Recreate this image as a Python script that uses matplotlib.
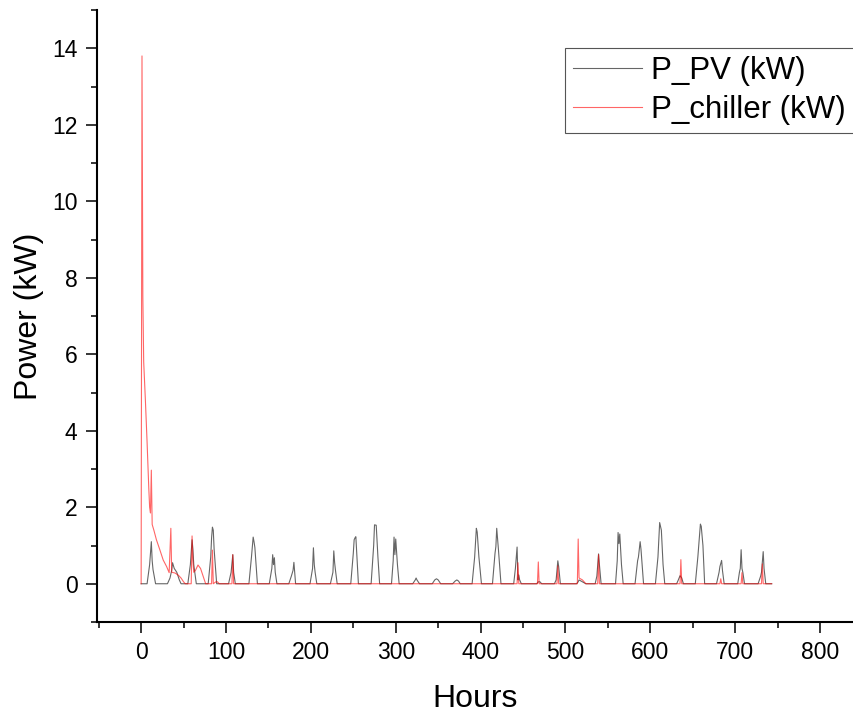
import matplotlib
matplotlib.use("Agg")
import matplotlib.pyplot as plt
from matplotlib.ticker import MultipleLocator

plt.rcParams["font.family"] = ["Liberation Sans", "DejaVu Sans"]

# PV output, key points (hour, kW)
pv_hours = [
    0, 7, 10, 12, 13, 14, 17,
    31, 34, 36, 37, 39, 42, 45, 47,
    55, 58, 60, 61, 62, 65,
    79, 82, 83, 84, 85, 86, 89,
    103, 106, 108, 109, 111,
    127, 130, 132, 133, 134, 137,
    151, 154, 155, 156, 157, 158, 160,
    174, 177, 179, 180, 182,
    199, 202, 203, 204, 205, 207,
    223, 226, 227, 228, 229, 231,
    247, 250, 251, 252, 253, 256,
    271, 274, 275, 277, 279, 281,
    295, 297, 298, 299, 300, 302, 304,
    320, 323, 324, 325, 328,
    343, 346, 348, 350, 353,
    367, 370, 372, 374, 376,
    390, 393, 395, 396, 398, 401,
    414, 417, 418, 419, 421, 424,
    439, 441, 443, 444, 445, 446, 448,
    466, 468, 470, 472,
    487, 489, 491, 492, 494,
    513, 515, 516, 520, 524,
    535, 537, 539, 540, 542,
    559, 561, 562, 563, 564, 566, 568,
    582, 585, 586, 588, 589, 592,
    606, 609, 611, 613, 615, 617,
    631, 633, 635, 637, 639,
    653, 656, 659, 660, 662, 664,
    678, 681, 682, 684, 685, 687,
    703, 705, 706, 707, 708, 709, 711,
    727, 730, 731, 733, 734, 736,
    743,
]
pv_values = [
    0, 0, 0.5, 1.1, 0.6, 0.37, 0,
    0, 0.15, 0.35, 0.55, 0.4, 0.3, 0.1, 0,
    0, 0.5, 1.15, 0.9, 0.5, 0,
    0, 0.7, 1.2, 1.48, 1.4, 0.9, 0,
    0, 0.3, 0.76, 0.3, 0,
    0, 0.7, 1.22, 1.1, 0.95, 0,
    0, 0.4, 0.76, 0.5, 0.68, 0.3, 0,
    0, 0.2, 0.35, 0.56, 0,
    0, 0.4, 0.94, 0.5, 0.3, 0,
    0, 0.3, 0.86, 0.55, 0.35, 0,
    0, 0.8, 1.15, 1.2, 1.23, 0,
    0, 1.0, 1.54, 1.53, 0.7, 0,
    0, 0.6, 1.22, 0.76, 1.17, 0.5, 0,
    0, 0.1, 0.15, 0.1, 0,
    0, 0.1, 0.13, 0.1, 0,
    0, 0.07, 0.1, 0.07, 0,
    0, 0.7, 1.45, 1.35, 0.7, 0,
    0, 0.8, 0.97, 1.45, 0.9, 0,
    0, 0.4, 0.96, 0.1, 0.23, 0.1, 0,
    0, 0.05, 0.05, 0,
    0, 0.1, 0.6, 0.45, 0,
    0, 0.05, 0.1, 0.05, 0,
    0, 0.2, 0.78, 0.5, 0,
    0, 0.6, 1.34, 1.05, 1.3, 0.5, 0,
    0, 0.6, 0.7, 1.1, 0.9, 0,
    0, 0.7, 1.6, 1.4, 0.5, 0,
    0, 0.1, 0.21, 0.15, 0,
    0, 0.7, 1.56, 1.5, 1.0, 0,
    0, 0.3, 0.45, 0.61, 0.35, 0,
    0, 0.3, 0.4, 0.89, 0.4, 0.3, 0,
    0, 0.2, 0.3, 0.84, 0.4, 0,
    0,
]

# chiller power, key points (hour, kW)
chiller_hours = [
    0, 1, 2, 3, 5, 7, 9, 10, 11, 12, 13, 15, 18, 22, 26, 30, 33, 35, 36,
    40, 44, 47, 50, 52, 59, 60, 61, 62, 64, 67, 70, 73, 76,
    83, 84, 85, 88, 90, 92, 107, 108, 109,
    443, 444, 445, 467, 468, 469, 490, 491, 492,
    514, 515, 516, 520, 524, 538, 539, 540,
    635, 636, 637, 682, 683, 684, 707, 708, 709, 731, 732, 733, 743,
]
chiller_values = [
    0, 13.8, 7.5, 5.8, 4.8, 3.7, 2.5, 2.0, 1.85, 2.97, 1.55, 1.4, 1.15, 0.89, 0.62, 0.45, 0.29, 1.45, 0.3,
    0.28, 0.22, 0.15, 0.05, 0, 0, 1.25, 0.6, 0.3, 0.35, 0.49, 0.4, 0.2, 0,
    0, 0.88, 0, 0.05, 0.05, 0, 0, 0.76, 0,
    0, 0.55, 0, 0, 0.57, 0, 0, 0.47, 0,
    0, 1.17, 0.15, 0.1, 0, 0, 0.76, 0,
    0, 0.63, 0, 0, 0.13, 0, 0, 0.29, 0, 0, 0.52, 0, 0,
]

fig = plt.figure(figsize=(8.54, 7.17), dpi=100)
ax = fig.add_axes([0.1136, 0.1325, 0.8864, 0.8535])

ax.plot(pv_hours, pv_values, color="#000000", alpha=0.6, lw=0.8, label="P_PV (kW)")
ax.plot(chiller_hours, chiller_values, color="#ff0000", alpha=0.6, lw=0.8, label="P_chiller (kW)")

ax.set_xlim(-52, 840)
ax.set_ylim(-1, 15)
ax.xaxis.set_major_locator(MultipleLocator(100))
ax.xaxis.set_minor_locator(MultipleLocator(50))
ax.yaxis.set_major_locator(MultipleLocator(2))
ax.yaxis.set_minor_locator(MultipleLocator(1))
ax.set_xticks(range(0, 801, 100))

for side in ("top", "right"):
    ax.spines[side].set_visible(False)
for side in ("left", "bottom"):
    ax.spines[side].set_linewidth(1.5)

ax.tick_params(which="major", direction="out", length=8, width=1.1, labelsize=16.5, pad=6)
ax.tick_params(which="minor", direction="out", length=4.3, width=1.1)

ax.set_xlabel("Hours", fontsize=23, labelpad=14)
ax.set_ylabel("Power (kW)", fontsize=23, labelpad=6)

leg = ax.legend(loc="upper right", bbox_to_anchor=(1.0, 0.938), borderaxespad=0,
                fontsize=22.5, handlelength=2.2, handletextpad=0.3, labelspacing=0.3,
                borderpad=0.25, fancybox=False, framealpha=1)
leg.get_frame().set_edgecolor("#555555")
leg.get_frame().set_linewidth(0.8)

fig.savefig("out.png", dpi=100)
